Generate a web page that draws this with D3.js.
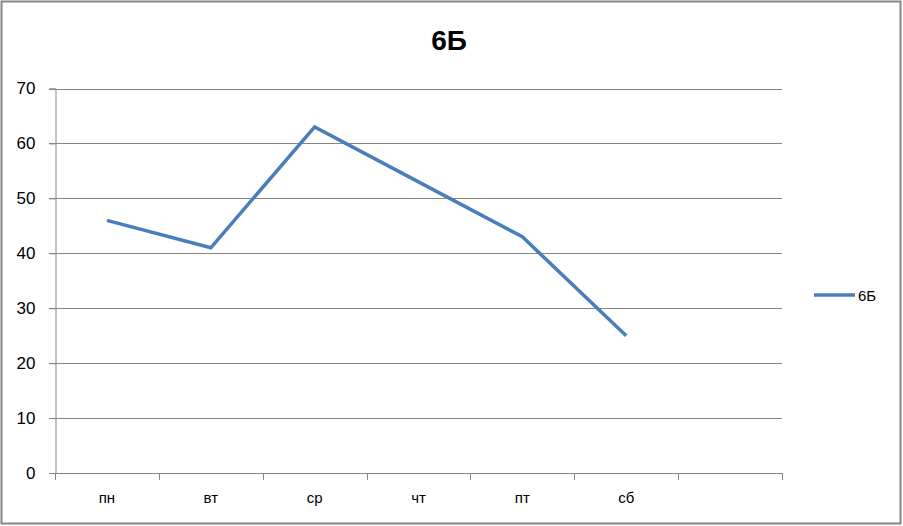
<!DOCTYPE html>
<html><head><meta charset="utf-8">
<script src="https://cdn.jsdelivr.net/npm/d3@7"></script>
<style>body{margin:0;background:#fff}svg{display:block}</style>
</head><body>
<script>
const categories = ["пн","вт","ср","чт","пт","сб",""];
const seriesName = "6Б";
const values = [46,41,63,53,43,25];
const yTicks = [0,10,20,30,40,50,60,70];
const title = "6Б";

const W=903,H=526;
const svg=d3.select("body").append("svg").attr("width",W).attr("height",H);
svg.append("rect").attr("x",1.5).attr("y",1.5).attr("width",W-4).attr("height",H-4)
  .attr("fill","#fff").attr("stroke","#868686").attr("stroke-width",2);

const L=55,R=782,T=88.5,B=473;
const x=d3.scaleBand().domain(categories.map((d,i)=>i)).range([L,R]);
const y=d3.scaleLinear().domain([0,70]).range([B,T]);
const font="'Liberation Sans', Arial, sans-serif";

// gridlines
svg.append("g").selectAll("line").data(yTicks).join("line")
  .attr("x1",L-6).attr("x2",R).attr("y1",d=>Math.round(y(d))+0.5).attr("y2",d=>Math.round(y(d))+0.5)
  .attr("stroke","#868686").attr("stroke-width",1);

// y axis
const yAxis=d3.axisLeft(y).tickValues(yTicks).tickSize(6).tickPadding(8);
const gy=svg.append("g").attr("transform",`translate(${L+0.5},0)`).call(yAxis);
gy.select(".domain").attr("stroke","#868686");
gy.selectAll(".tick line").attr("stroke","#868686");
gy.selectAll("text").attr("font-family",font).attr("font-size",17).attr("fill","#000").attr("dx",-6);

// x axis
const xAxis=d3.axisBottom(x).tickSize(0).tickFormat(i=>categories[i]);
const gx=svg.append("g").attr("transform",`translate(0,${B+0.5})`).call(xAxis);
gx.select(".domain").remove();
gx.selectAll("text").attr("font-family",font).attr("font-size",15).attr("fill","#000").attr("dy","1.75em");
const bounds=d3.range(categories.length+1).map(i=>L+i*x.step());
svg.append("g").selectAll("line").data(bounds).join("line")
  .attr("x1",d=>Math.round(d)+0.5).attr("x2",d=>Math.round(d)+0.5).attr("y1",B).attr("y2",B+7)
  .attr("stroke","#868686");

// line
const line=d3.line().x((d,i)=>x(i)+x.bandwidth()/2).y(d=>y(d));
svg.append("path").datum(values).attr("d",line).attr("fill","none")
  .attr("stroke","#4a7ebb").attr("stroke-width",3.5).attr("stroke-linejoin","miter");

// title
svg.append("text").attr("x",449).attr("y",50).attr("text-anchor","middle")
  .attr("font-family",font).attr("font-weight","bold").attr("font-size",28).text(title);

// legend
svg.append("line").attr("x1",814).attr("x2",855).attr("y1",295).attr("y2",295)
  .attr("stroke","#4a7ebb").attr("stroke-width",3.5);
svg.append("text").attr("x",858).attr("y",300.5).attr("font-family",font).attr("font-size",15)
  .text(seriesName);
</script>
</body></html>
